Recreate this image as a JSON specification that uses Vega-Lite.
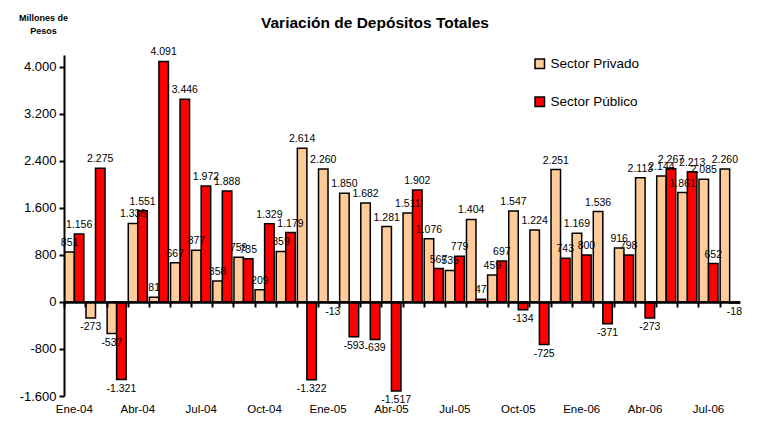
{
  "$schema": "https://vega.github.io/schema/vega-lite/v6.json",
  "width": 676,
  "height": 341,
  "autosize": {"type": "none"},
  "padding": {"left": 64, "top": 55, "right": 18, "bottom": 25},
  "background": "white",
  "title": {"text": "Variación de Depósitos Totales", "font": "Liberation Sans", "fontSize": 15.5, "fontWeight": "bold", "color": "black", "anchor": "middle", "dx": -27, "offset": -18, "frame": "group"},
  "config": {
    "locale": {"number": {"decimal": ",", "thousands": ".", "grouping": [3], "currency": ["$", ""], "minus": "-"}},
    "view": {"stroke": null},
    "font": "Liberation Sans"
  },
  "data": {"values": [
    {"mes": "Ene-04", "sector": "Sector Privado", "valor": 851}, {"mes": "Ene-04", "sector": "Sector Público", "valor": 1156},
    {"mes": "Feb-04", "sector": "Sector Privado", "valor": -273}, {"mes": "Feb-04", "sector": "Sector Público", "valor": 2275},
    {"mes": "Mar-04", "sector": "Sector Privado", "valor": -537}, {"mes": "Mar-04", "sector": "Sector Público", "valor": -1321},
    {"mes": "Abr-04", "sector": "Sector Privado", "valor": 1336}, {"mes": "Abr-04", "sector": "Sector Público", "valor": 1551},
    {"mes": "May-04", "sector": "Sector Privado", "valor": 81}, {"mes": "May-04", "sector": "Sector Público", "valor": 4091},
    {"mes": "Jun-04", "sector": "Sector Privado", "valor": 667}, {"mes": "Jun-04", "sector": "Sector Público", "valor": 3446},
    {"mes": "Jul-04", "sector": "Sector Privado", "valor": 877}, {"mes": "Jul-04", "sector": "Sector Público", "valor": 1972},
    {"mes": "Ago-04", "sector": "Sector Privado", "valor": 358}, {"mes": "Ago-04", "sector": "Sector Público", "valor": 1888},
    {"mes": "Sep-04", "sector": "Sector Privado", "valor": 759}, {"mes": "Sep-04", "sector": "Sector Público", "valor": 735},
    {"mes": "Oct-04", "sector": "Sector Privado", "valor": 209}, {"mes": "Oct-04", "sector": "Sector Público", "valor": 1329},
    {"mes": "Nov-04", "sector": "Sector Privado", "valor": 859}, {"mes": "Nov-04", "sector": "Sector Público", "valor": 1179},
    {"mes": "Dic-04", "sector": "Sector Privado", "valor": 2614}, {"mes": "Dic-04", "sector": "Sector Público", "valor": -1322},
    {"mes": "Ene-05", "sector": "Sector Privado", "valor": 2260}, {"mes": "Ene-05", "sector": "Sector Público", "valor": -13},
    {"mes": "Feb-05", "sector": "Sector Privado", "valor": 1850}, {"mes": "Feb-05", "sector": "Sector Público", "valor": -593},
    {"mes": "Mar-05", "sector": "Sector Privado", "valor": 1682}, {"mes": "Mar-05", "sector": "Sector Público", "valor": -639},
    {"mes": "Abr-05", "sector": "Sector Privado", "valor": 1281}, {"mes": "Abr-05", "sector": "Sector Público", "valor": -1517},
    {"mes": "May-05", "sector": "Sector Privado", "valor": 1511}, {"mes": "May-05", "sector": "Sector Público", "valor": 1902},
    {"mes": "Jun-05", "sector": "Sector Privado", "valor": 1076}, {"mes": "Jun-05", "sector": "Sector Público", "valor": 567},
    {"mes": "Jul-05", "sector": "Sector Privado", "valor": 535}, {"mes": "Jul-05", "sector": "Sector Público", "valor": 779},
    {"mes": "Ago-05", "sector": "Sector Privado", "valor": 1404}, {"mes": "Ago-05", "sector": "Sector Público", "valor": 47},
    {"mes": "Sep-05", "sector": "Sector Privado", "valor": 459}, {"mes": "Sep-05", "sector": "Sector Público", "valor": 697},
    {"mes": "Oct-05", "sector": "Sector Privado", "valor": 1547}, {"mes": "Oct-05", "sector": "Sector Público", "valor": -134},
    {"mes": "Nov-05", "sector": "Sector Privado", "valor": 1224}, {"mes": "Nov-05", "sector": "Sector Público", "valor": -725},
    {"mes": "Dic-05", "sector": "Sector Privado", "valor": 2251}, {"mes": "Dic-05", "sector": "Sector Público", "valor": 743},
    {"mes": "Ene-06", "sector": "Sector Privado", "valor": 1169}, {"mes": "Ene-06", "sector": "Sector Público", "valor": 800},
    {"mes": "Feb-06", "sector": "Sector Privado", "valor": 1536}, {"mes": "Feb-06", "sector": "Sector Público", "valor": -371},
    {"mes": "Mar-06", "sector": "Sector Privado", "valor": 916}, {"mes": "Mar-06", "sector": "Sector Público", "valor": 798},
    {"mes": "Abr-06", "sector": "Sector Privado", "valor": 2113}, {"mes": "Abr-06", "sector": "Sector Público", "valor": -273},
    {"mes": "May-06", "sector": "Sector Privado", "valor": 2144}, {"mes": "May-06", "sector": "Sector Público", "valor": 2267},
    {"mes": "Jun-06", "sector": "Sector Privado", "valor": 1861}, {"mes": "Jun-06", "sector": "Sector Público", "valor": 2213},
    {"mes": "Jul-06", "sector": "Sector Privado", "valor": 2085}, {"mes": "Jul-06", "sector": "Sector Público", "valor": 652},
    {"mes": "Ago-06", "sector": "Sector Privado", "valor": 2260}, {"mes": "Ago-06", "sector": "Sector Público", "valor": -18}
  ]},
  "encoding": {
    "x": {"field": "mes", "type": "ordinal", "sort": null,
      "scale": {"paddingInner": 0.1, "paddingOuter": 0.04},
      "axis": {"orient": "bottom", "offset": -94, "title": null, "zindex": 1,
        "labelExpr": "test(/^(Ene|Abr|Jul|Oct)/, datum.value) ? datum.value : ''",
        "domain": true, "domainColor": "black", "domainWidth": 2.5,
        "ticks": true, "tickColor": "black", "tickWidth": 2, "tickSize": 5, "bandPosition": 0,
        "labelAngle": 0, "labelFont": "Liberation Sans", "labelFontSize": 11.5, "labelColor": "black",
        "labelPadding": 96, "labelOverlap": false, "labelBound": false}},
    "xOffset": {"field": "sector", "type": "nominal", "sort": ["Sector Privado", "Sector Público"]},
    "y": {"field": "valor", "type": "quantitative",
      "scale": {"domain": [-1600, 4200], "nice": false, "zero": false},
      "axis": {"values": [-1600, -800, 0, 800, 1600, 2400, 3200, 4000], "format": ",d", "grid": false,
        "domainColor": "black", "domainWidth": 2, "tickColor": "black", "tickWidth": 2, "tickSize": 5,
        "labelFont": "Liberation Sans", "labelFontSize": 13, "labelColor": "black", "labelPadding": 3,
        "title": ["Millones de", "Pesos"], "titleAngle": 0, "titleFont": "Liberation Sans", "titleFontSize": 9,
        "titleFontWeight": "bold", "titleColor": "black", "titleX": -21, "titleY": -38, "titleAlign": "center",
        "titleBaseline": "middle", "titleLineHeight": 13}}
  },
  "layer": [
    {
      "mark": {"type": "bar", "stroke": "black", "strokeWidth": 1.5},
      "encoding": {
        "color": {"field": "sector", "type": "nominal",
          "scale": {"domain": ["Sector Privado", "Sector Público"], "range": ["#FFCC99", "#FF0000"]},
          "legend": {"orient": "none", "legendX": 469, "legendY": 2, "title": null, "symbolType": "square",
            "symbolSize": 90, "symbolStrokeColor": "black", "symbolStrokeWidth": 1.5, "labelFont": "Liberation Sans",
            "labelFontSize": 13.5, "labelColor": "black", "rowPadding": 22, "labelOffset": 4}}
      }
    },
    {
      "transform": [{"filter": "datum.valor >= 0"}],
      "mark": {"type": "text", "baseline": "bottom", "dy": -4, "fontSize": 10.5, "font": "Liberation Sans", "color": "black"},
      "encoding": {"text": {"field": "valor", "type": "quantitative", "format": ",d"}}
    },
    {
      "transform": [{"filter": "datum.valor < 0"}],
      "mark": {"type": "text", "baseline": "top", "dy": 4, "fontSize": 10.5, "font": "Liberation Sans", "color": "black"},
      "encoding": {"text": {"field": "valor", "type": "quantitative", "format": ",d"}}
    }
  ]
}
